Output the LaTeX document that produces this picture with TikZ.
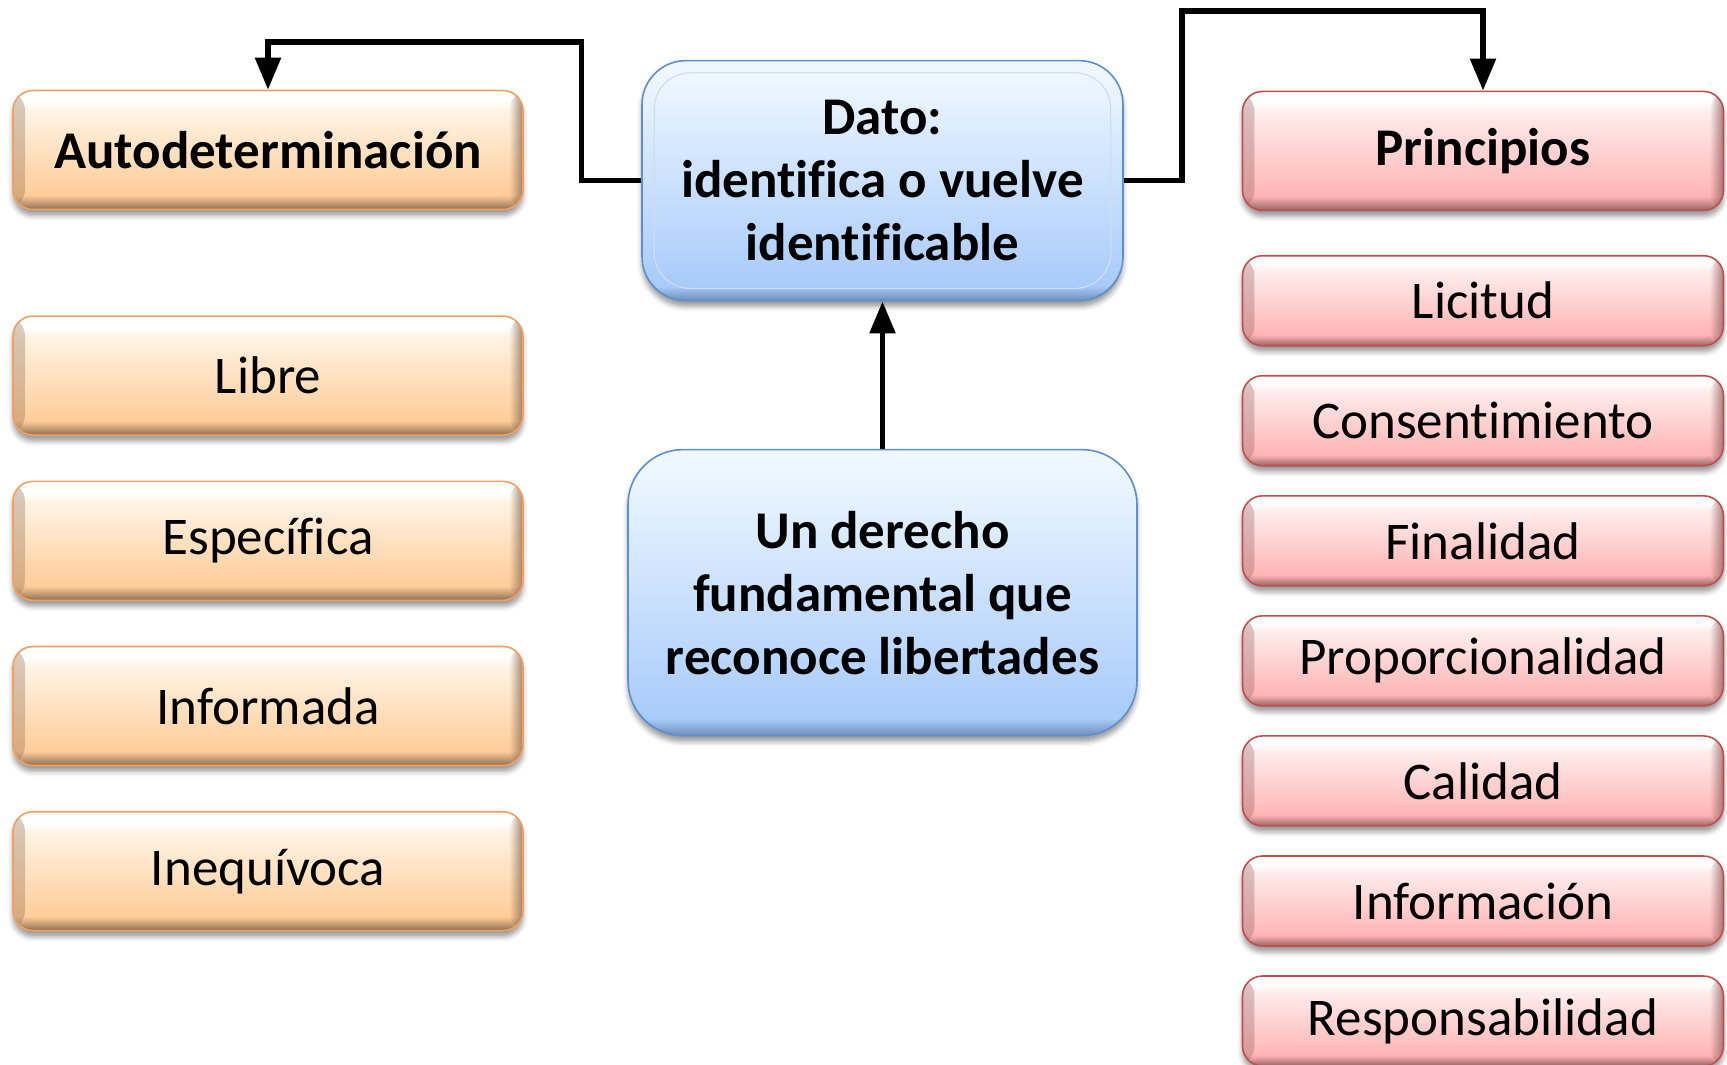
\documentclass[tikz,border=0pt]{standalone}
\usepackage{fontspec}
\setmainfont{Carlito}[Ligatures=CommonOff]
\usetikzlibrary{shadows.blur,arrows.meta,fadings}
\definecolor{oline}{HTML}{F0A060}
\definecolor{otop}{HTML}{FFF3E4}
\definecolor{obot}{HTML}{FFCC98}
\definecolor{obev}{HTML}{8E6E52}
\definecolor{pline}{HTML}{C0504D}
\definecolor{ptop}{HTML}{FFECEC}
\definecolor{pbot}{HTML}{FFB4B4}
\definecolor{pbev}{HTML}{956464}
\definecolor{bline}{HTML}{5B8FD0}
\definecolor{btop}{HTML}{EEF7FF}
\definecolor{bbot}{HTML}{A8CBFA}
\definecolor{bbev}{HTML}{6F8DB8}
\definecolor{hl}{HTML}{FFFFFF}
\pgfdeclareverticalshading{oshade}{100bp}{color(0bp)=(obev); color(25bp)=(obev); color(31bp)=(obot); color(66bp)=(otop); color(71bp)=(hl); color(100bp)=(hl)}
\pgfdeclareverticalshading{pshade}{100bp}{color(0bp)=(pbev); color(25bp)=(pbev); color(31bp)=(pbot); color(66bp)=(ptop); color(71bp)=(hl); color(100bp)=(hl)}
\pgfdeclareverticalshading{bshade}{100bp}{color(0bp)=(bbev); color(25bp)=(bbev); color(28bp)=(bbot); color(72bp)=(btop); color(75bp)=(btop); color(100bp)=(btop)}
\tikzset{
  boxbase/.style={rounded corners=20pt, inner sep=0pt, align=center, line width=1.6pt,
    blur shadow={shadow xshift=0pt, shadow yshift=-6pt, shadow blur radius=5pt, shadow opacity=40}},
  sides/.style={path picture={
    \fill[#1, opacity=0.35, path fading=east] (path picture bounding box.south west) rectangle ([xshift=12pt]path picture bounding box.north west);
    \fill[#1, opacity=0.8, path fading=west] ([xshift=-14pt]path picture bounding box.south east) rectangle (path picture bounding box.north east);
  }},
  obox/.style={boxbase, draw=oline, shading=oshade, sides=obev, minimum width=510pt, minimum height=119pt,
    font=\fontsize{53}{63}\selectfont},
  pbox/.style={boxbase, draw=pline, shading=pshade, sides=pbev, minimum width=481pt, minimum height=90pt,
    font=\fontsize{53}{63}\selectfont},
  ptitle/.style={pbox, minimum height=119pt, font=\fontsize{53}{63}\selectfont\bfseries},
  otitle/.style={obox, font=\fontsize{53}{63}\selectfont\bfseries},
  bbox/.style={boxbase, draw=bline, shading=bshade, rounded corners=44pt,
    font=\fontsize{53}{63}\selectfont\bfseries},
  conn/.style={line width=5.5pt, line join=miter},
  tip/.style={-{Triangle[width=25pt,length=32pt]}}
}
\begin{document}
\begin{tikzpicture}[x=1pt,y=-1pt]
\useasboundingbox (0,0) rectangle (1727,1065);
% left column
\node[otitle] (auto) at (268,150) {Autodeterminación};
\node[obox] (libre) at (268,375.6) {Libre};
\node[obox] (espec) at (268,540.8) {Específica};
\node[obox] (infor) at (268,706) {Informada};
\node[obox] (ineq) at (268,871.2) {Inequívoca};
% right column
\node[ptitle] (princ) at (1483,150.9) {Principios};
\node[pbox] (lic) at (1483,300.7) {Licitud};
\node[pbox] (cons) at (1483,420.7) {Consentimiento};
\node[pbox] (fin) at (1483,540.8) {Finalidad};
\node[pbox] (prop) at (1483,660.8) {Proporcionalidad};
\node[pbox] (cal) at (1483,780.9) {Calidad};
\node[pbox] (inf2) at (1483,901) {Información};
\node[pbox] (resp) at (1483,1021) {Responsabilidad};
% center
\node[bbox, minimum width=481pt, minimum height=240pt] (dato) at (882.5,180.6)
  {Dato:\\identifica o vuelve\\identificable};
\draw[line width=1.2pt, draw=white!70!bline, rounded corners=36pt]
  ([shift={(13pt,-13pt)}]dato.north west) rectangle ([shift={(-13pt,13pt)}]dato.south east);
\node[bbox, rounded corners=55pt, minimum width=509pt, minimum height=286pt] (der) at (882.5,592.6)
  {Un derecho\\fundamental que\\reconoce libertades};
% connectors
\coordinate (l1) at (581.5,180.6);
\coordinate (l2) at (581.5,41.9);
\coordinate (l3) at (268,41.9);
\coordinate (r1) at (1181.8,180.6);
\coordinate (r2) at (1181.8,11);
\coordinate (r3) at (1483,11);
\draw[conn,tip] (dato.west) -- (l1) -- (l2) -- (l3) -- (auto.north);
\draw[conn,tip] (dato.east) -- (r1) -- (r2) -- (r3) -- (princ.north);
\draw[conn,tip] (der.north) -- (dato.south);
\end{tikzpicture}
\end{document}
